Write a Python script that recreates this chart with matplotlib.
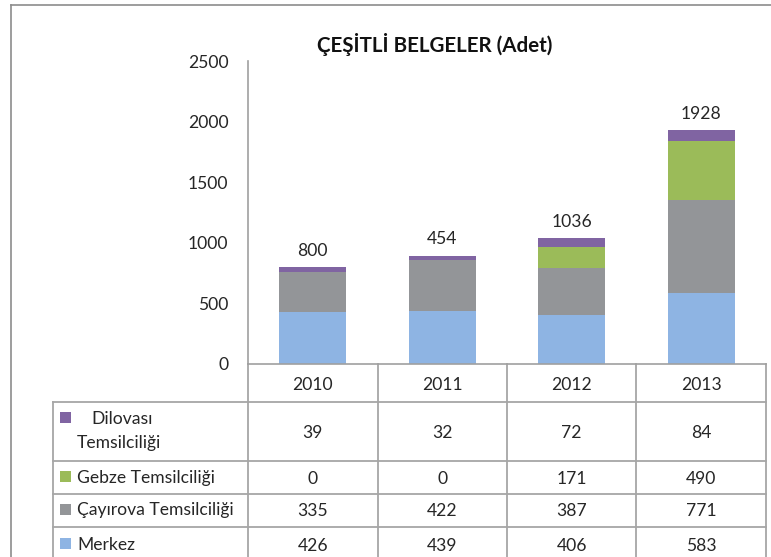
import matplotlib
matplotlib.use('Agg')
import matplotlib.pyplot as plt
import matplotlib.transforms as mtransforms
from matplotlib.patches import Rectangle

# ---- data ----
years = ['2010', '2011', '2012', '2013']
merkez = [426, 439, 406, 583]
cayirova = [335, 422, 387, 771]
gebze = [0, 0, 171, 490]
dilovasi = [39, 32, 72, 84]
total_labels = ['800', '454', '1036', '1928']
series_labels = ['Merkez', 'Çayırova Temsilciliği', 'Gebze Temsilciliği', 'Dilovası\nTemsilciliği']
title = 'ÇEŞİTLİ BELGELER (Adet)'
yticks = [0, 500, 1000, 1500, 2000, 2500]

series = [merkez, cayirova, gebze, dilovasi]
colors = ['#8EB4E3', '#939598', '#9BBB59', '#8064A2']

plt.rcParams['font.family'] = ['Lato', 'DejaVu Sans']
FS = 12.6
TXT = '#262626'

W, H = 771, 557
fig = plt.figure(figsize=(W / 100, H / 100), dpi=100)

def fx(px):
    return px / W

def fy(py):
    return 1 - py / H

ax_left, ax_right, ax_top, ax_zero = 248, 766, 61, 364
ax = fig.add_axes([fx(ax_left), fy(ax_zero), fx(ax_right - ax_left), (ax_zero - ax_top) / H])

x = list(range(len(years)))
bottom = [0] * len(years)
for vals, c in zip(series, colors):
    ax.bar(x, vals, width=0.52, bottom=bottom, color=c, linewidth=0, zorder=2)
    bottom = [b + v for b, v in zip(bottom, vals)]

for xi, tot, lab in zip(x, bottom, total_labels):
    ax.annotate(lab, (xi, tot), xytext=(0, 6), textcoords='offset points',
                ha='center', va='bottom', fontsize=FS, color=TXT)

ax.set_xlim(-0.5, len(years) - 0.5)
ax.set_ylim(0, 2500)
ax.set_yticks(yticks)
ax.set_yticklabels([str(t) for t in yticks], fontsize=FS, color=TXT)
ax.set_xticks([])
ax.tick_params(axis='y', length=0, pad=14)
for s in ['top', 'right']:
    ax.spines[s].set_visible(False)
ax.spines['left'].set_color('#A0A0A0')
ax.spines['bottom'].set_color('#A0A0A0')
ax.spines['left'].set_linewidth(1.2)
ax.spines['bottom'].set_linewidth(1.2)
ax.patch.set_alpha(0)

# overlay in pixel coordinates for title, frame and data table
ov = fig.add_axes([0, 0, 1, 1], zorder=-1)
ov.set_xlim(0, W)
ov.set_ylim(H, 0)
ov.axis('off')

ov.text(435, 45, title, ha='center', va='center', fontsize=14.8, fontweight='bold', color='#111111')

# outer frame
frame_c = '#8C8C8C'
ov.plot([11, 11], [5, H + 5], color=frame_c, lw=1.2, clip_on=False)
ov.plot([11, W + 5], [5, 5], color=frame_c, lw=1.2, clip_on=False)

grid_c = '#A6A6A6'
lw = 1.3
col_x = [378, 507, 636, 766]
label_left = 53
row_y = [364, 402, 461, 494, 527]

# header row
ov.plot([ax_left, ax_left], [ax_zero, row_y[1]], color=grid_c, lw=lw)
for cx in col_x:
    ov.plot([cx, cx], [ax_zero, H + 5], color=grid_c, lw=lw, clip_on=False)
ov.plot([ax_left, ax_left], [row_y[1], H + 5], color=grid_c, lw=lw, clip_on=False)
ov.plot([label_left, label_left], [row_y[1], H + 5], color=grid_c, lw=lw, clip_on=False)
for ry in row_y[1:]:
    ov.plot([label_left, col_x[-1]], [ry, ry], color=grid_c, lw=lw)

blend = mtransforms.blended_transform_factory(ax.transData, ov.transData)
header_y = (row_y[0] + row_y[1]) / 2 + 2
for xi, yr in zip(x, years):
    ov.text(xi, header_y, yr, transform=blend, ha='center', va='center', fontsize=FS, color=TXT)

# table body rows (top to bottom: Dilovası, Gebze, Çayırova, Merkez)
order = [3, 2, 1, 0]
for r, si in enumerate(order):
    y0, y1 = row_y[r + 1], (row_y[r + 2] if r + 2 < len(row_y) else 563)
    yc = (y0 + y1) / 2
    for xi, v in zip(x, series[si]):
        ov.text(xi, yc + 1, str(v), transform=blend, ha='center', va='center',
                fontsize=FS, color=TXT)
    lines = series_labels[si].split('\n')
    if len(lines) == 1:
        ov.add_patch(Rectangle((60, yc - 7), 11, 11, color=colors[si], lw=0))
        ov.text(77, yc, lines[0], ha='left', va='center', fontsize=FS, color=TXT)
    else:
        ov.add_patch(Rectangle((60, y0 + 10), 11, 11, color=colors[si], lw=0))
        ov.text(91, y0 + 17, lines[0], ha='left', va='center', fontsize=FS, color=TXT)
        ov.text(77, y0 + 41, lines[1], ha='left', va='center', fontsize=FS, color=TXT)

fig.savefig('out.png', dpi=100)
